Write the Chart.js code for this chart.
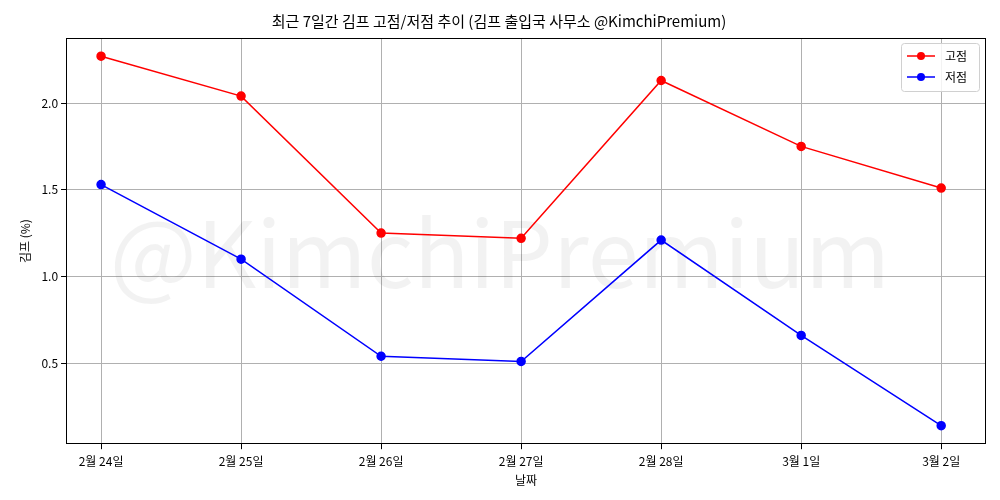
<!DOCTYPE html>
<html>
<head>
<meta charset="utf-8">
<script src="https://cdn.jsdelivr.net/npm/chart.js@4"></script>
<style>
body { margin: 0; background: #fff; }
#wrap { width: 1000px; height: 500px; }
</style>
</head>
<body>
<div id="wrap"><canvas id="chart"></canvas></div>
<script>
// Data
const dates = ['2월 24일', '2월 25일', '2월 26일', '2월 27일', '2월 28일', '3월 1일', '3월 2일'];
const highValues = [2.27, 2.04, 1.25, 1.22, 2.13, 1.75, 1.51];
const lowValues = [1.53, 1.10, 0.54, 0.51, 1.21, 0.66, 0.14];
const yTicks = [0.5, 1.0, 1.5, 2.0];

const FONT = "'Noto Sans CJK KR', 'Noto Sans', sans-serif";

// Watermark behind the lines
const watermark = {
    id: 'watermark',
    beforeDatasetsDraw(chart) {
        const { ctx, chartArea } = chart;
        ctx.save();
        ctx.font = '92px ' + FONT;
        ctx.fillStyle = 'rgba(0,0,0,0.05)';
        ctx.textAlign = 'center';
        ctx.textBaseline = 'middle';
        ctx.fillText('@KimchiPremium', chart.width / 2, (chartArea.top + chartArea.bottom) / 2 + 12);
        ctx.restore();
    }
};

// Full frame around plot area plus matplotlib-style legend box
const legendBox = {
    id: 'legendBox',
    afterDraw(chart) {
        const { ctx, chartArea } = chart;
        ctx.save();
        ctx.strokeStyle = '#000';
        ctx.lineWidth = 1;
        ctx.strokeRect(Math.round(chartArea.left) + 0.5, Math.round(chartArea.top) + 0.5,
            Math.round(chartArea.right - chartArea.left) - 1, Math.round(chartArea.bottom - chartArea.top) - 1);

        const w = 78, h = 48;
        const x = chartArea.right - w - 7, y = chartArea.top + 5;
        ctx.fillStyle = 'rgba(255,255,255,0.85)';
        ctx.strokeStyle = '#d0d0d0';
        ctx.beginPath();
        ctx.roundRect(x + 0.5, y + 0.5, w, h, 3);
        ctx.fill();
        ctx.stroke();
        chart.data.datasets.forEach((ds, i) => {
            const cy = y + 13 + i * 21;
            ctx.strokeStyle = ds.borderColor;
            ctx.lineWidth = 1.5;
            ctx.beginPath();
            ctx.moveTo(x + 6, cy);
            ctx.lineTo(x + 34, cy);
            ctx.stroke();
            ctx.fillStyle = ds.backgroundColor;
            ctx.beginPath();
            ctx.arc(x + 20, cy, 4, 0, Math.PI * 2);
            ctx.fill();
            ctx.fillStyle = '#000';
            ctx.font = '12px ' + FONT;
            ctx.textBaseline = 'middle';
            ctx.fillText(ds.label, x + 44, cy);
        });
        ctx.restore();
    }
};

new Chart(document.getElementById('chart'), {
    type: 'line',
    data: {
        datasets: [{
            label: '고점',
            data: highValues.map((v, i) => ({ x: i, y: v })),
            borderColor: '#ff0000',
            backgroundColor: '#ff0000',
            borderWidth: 1.5,
            pointRadius: 4,
            tension: 0
        }, {
            label: '저점',
            data: lowValues.map((v, i) => ({ x: i, y: v })),
            borderColor: '#0000ff',
            backgroundColor: '#0000ff',
            borderWidth: 1.5,
            pointRadius: 4,
            tension: 0
        }]
    },
    options: {
        responsive: true,
        maintainAspectRatio: false,
        animation: false,
        layout: { padding: { left: 12, right: 14, top: 4, bottom: 12 } },
        plugins: {
            legend: { display: false },
            tooltip: { enabled: false },
            title: {
                display: true,
                text: '최근 7일간 김프 고점/저점 추이 (김프 출입국 사무소 @KimchiPremium)',
                color: '#000',
                font: { family: FONT, size: 15, weight: 'normal' },
                padding: { top: 8, bottom: 8 }
            }
        },
        scales: {
            x: {
                type: 'linear',
                min: -0.25,
                max: 6.32,
                afterBuildTicks: axis => { axis.ticks = dates.map((d, i) => ({ value: i })); },
                ticks: {
                    color: '#000',
                    font: { family: FONT, size: 12 },
                    padding: 5,
                    callback: v => dates[v]
                },
                grid: { color: '#b0b0b0', tickLength: 5, tickColor: '#000' },
                border: { display: false },
                title: { display: true, text: '날짜', color: '#000', font: { family: FONT, size: 12 }, padding: 0 }
            },
            y: {
                min: 0.033,
                max: 2.375,
                afterBuildTicks: axis => { axis.ticks = yTicks.map(v => ({ value: v })); },
                ticks: {
                    color: '#000',
                    font: { family: FONT, size: 12 },
                    callback: v => v.toFixed(1)
                },
                grid: { color: '#b0b0b0', tickLength: 5, tickColor: '#000' },
                border: { display: false },
                title: { display: true, text: '김프 (%)', color: '#000', font: { family: FONT, size: 12 }, padding: 6 }
            }
        }
    },
    plugins: [watermark, legendBox]
});
</script>
</body>
</html>
